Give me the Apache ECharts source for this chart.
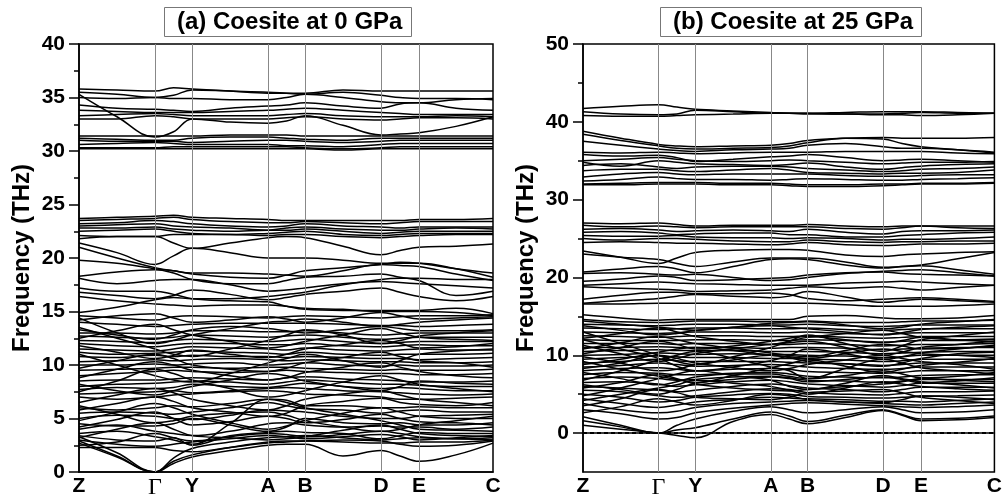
<!DOCTYPE html>
<html>
<head>
<meta charset="utf-8">
<script src="https://cdn.jsdelivr.net/npm/echarts@6.0.0/dist/echarts.min.js"></script>
<style>
  html, body { margin: 0; padding: 0; background: #fff; }
  #chart { width: 1005px; height: 500px; }
</style>
</head>
<body>
<div id="chart"></div>
<script>
const kLabels = ["Z", "Γ", "Y", "A", "B", "D", "E", "C"];
const kTicks = [0, 76, 113, 189, 226, 302, 340, 414];
// k-path distance of every sampled point (symmetry points + half-way points)
const kPos = [0, 38, 76, 94.5, 113, 151, 189, 207.5, 226, 264, 302, 321, 340, 377, 414];
const titles = ["(a) Coesite at 0 GPa", "(b) Coesite at 25 GPa"];
const yLabels25 = [0, 10, 20, 30, 40, 50];
const yMinor25 = [5, 15, 25, 35, 45];

// phonon branches at 0 GPa (THz), one row per branch, read at kPos
const bands0 = [
  [35.8,35.7,35.6,35.9,35.8,35.6,35.4,35.4,35.4,35.7,35.6,35.6,35.6,35.6,35.6],
  [35.5,35.3,35.0,35.2,35.7,35.6,35.5,35.4,35.3,35.5,35.2,35.0,34.9,34.9,34.8],
  [35.0,34.9,35.0,34.9,34.9,34.8,34.8,35.0,35.3,35.0,34.6,34.5,34.5,34.8,34.9],
  [34.3,34.0,33.9,33.8,33.7,34.0,34.2,34.3,34.5,34.2,34.0,34.4,34.5,34.0,33.8],
  [33.8,33.7,33.6,33.6,33.6,33.7,33.8,33.9,34.0,33.8,33.6,33.5,33.4,33.4,33.4],
  [33.3,33.4,33.5,33.4,33.3,33.3,33.3,33.4,33.5,33.3,33.2,33.2,33.2,33.3,33.2],
  [33.0,33.0,33.3,33.2,33.0,33.0,33.0,33.1,33.2,33.0,32.9,33.0,33.1,33.1,33.0],
  [35.3,33.2,31.3,31.8,33.0,32.7,32.6,32.8,33.3,32.4,31.5,31.6,31.7,32.3,33.2],
  [31.4,31.4,31.4,31.4,31.4,31.5,31.5,31.5,31.4,31.4,31.4,31.4,31.4,31.4,31.4],
  [31.2,31.1,31.0,31.0,31.2,31.3,31.3,31.2,31.1,31.0,31.2,31.2,31.2,31.2,31.2],
  [31.0,30.9,30.9,30.9,30.8,30.9,31.0,31.0,30.9,30.8,30.9,31.0,31.0,31.0,31.0],
  [30.6,30.7,30.8,30.7,30.6,30.6,30.6,30.5,30.5,30.4,30.6,30.7,30.7,30.7,30.7],
  [30.3,30.3,30.3,30.4,30.4,30.4,30.4,30.4,30.3,30.2,30.3,30.4,30.4,30.4,30.4],
  [30.2,30.2,30.2,30.2,30.2,30.2,30.2,30.2,30.2,30.1,30.2,30.2,30.2,30.2,30.2],
  [23.7,23.8,23.9,24.0,23.8,23.7,23.6,23.5,23.5,23.5,23.5,23.5,23.6,23.6,23.7],
  [23.5,23.6,23.7,23.8,23.6,23.4,23.3,23.3,23.4,23.3,23.2,23.3,23.4,23.4,23.4],
  [23.2,23.3,23.5,23.4,23.2,23.0,22.9,23.0,23.2,23.0,22.9,22.8,22.9,22.9,22.9],
  [23.0,23.1,23.2,23.0,22.9,22.8,22.6,22.8,22.9,22.7,22.6,22.6,22.7,22.8,22.7],
  [22.8,22.8,22.9,22.7,22.6,22.5,22.6,22.6,22.7,22.5,22.3,22.4,22.5,22.5,22.5],
  [22.5,22.6,22.7,22.5,22.3,22.2,22.3,22.4,22.5,22.2,22.1,22.2,22.3,22.3,22.3],
  [22.1,22.0,22.0,22.2,22.2,22.2,22.1,22.2,22.2,22.0,21.9,22.0,22.1,22.2,22.2],
  [21.8,22.0,22.0,21.4,20.9,21.4,21.9,22.0,21.9,21.1,20.3,20.7,21.0,21.1,21.3],
  [21.4,20.5,19.4,20.2,20.9,20.5,20.0,20.0,20.0,19.8,19.5,19.5,19.5,19.0,18.2],
  [21.0,20.0,19.1,18.8,18.6,18.6,18.5,18.4,18.3,18.8,19.4,19.3,19.2,18.5,17.9],
  [19.8,19.5,19.0,18.8,18.5,18.2,18.1,18.4,18.8,19.1,19.4,19.6,19.5,19.0,18.6],
  [18.3,18.7,18.9,18.6,18.0,17.6,17.6,17.9,18.2,18.3,18.5,18.2,17.9,16.5,16.9],
  [18.1,17.6,17.9,18.0,18.0,17.5,16.9,17.0,17.2,17.6,17.8,17.7,17.6,17.4,17.2],
  [17.2,16.9,16.9,16.6,16.2,16.0,15.9,15.5,15.2,15.1,15.1,15.1,15.1,15.3,14.8],
  [16.8,16.5,16.2,16.5,17.0,16.6,16.1,16.3,16.6,16.9,17.2,16.8,16.4,16.0,16.4],
  [16.4,16.0,15.7,15.6,15.5,15.6,15.6,15.5,15.3,15.2,15.0,15.0,15.0,14.9,14.6],
  [14.9,15.4,16.1,16.3,16.2,16.2,16.4,16.6,16.8,17.5,18.0,18.1,18.1,18.0,18.0],
  [2.7,1.4,0.0,0.8,1.4,2.0,2.5,2.6,2.6,1.5,2.0,1.5,1.0,1.6,2.7],
  [2.9,1.5,0.0,1.0,1.6,2.3,2.8,2.9,2.9,2.8,2.7,2.7,2.8,2.8,3.0],
  [3.3,1.8,0.0,1.3,2.2,2.8,3.2,3.3,3.4,3.2,3.0,3.1,3.2,3.1,3.2],
  [2.3,2.3,2.3,2.0,1.9,2.3,2.7,2.8,2.9,3.0,2.9,2.6,2.4,2.5,2.9],
  [2.5,2.8,3.6,3.2,2.9,3.3,3.6,3.5,3.3,3.5,3.8,3.6,3.3,3.1,3.0],
  [3.0,2.6,2.4,2.6,2.8,3.1,3.4,3.3,3.1,3.3,3.5,3.3,3.0,3.2,3.4],
  [3.4,3.0,2.9,3.2,2.5,3.4,3.7,3.8,3.7,3.6,3.1,3.4,3.7,3.6,3.6],
  [3.6,3.8,3.3,3.0,2.6,4.5,6.8,6.5,6.0,5.4,4.8,4.4,4.0,3.9,3.8],
  [4.0,4.4,3.8,3.6,3.4,3.8,4.5,4.6,4.4,4.2,4.3,4.2,4.2,4.0,4.2],
  [4.2,4.9,5.6,5.0,4.4,4.7,5.2,5.0,4.6,4.9,5.4,5.0,4.7,4.6,4.4],
  [4.5,4.3,4.3,4.5,5.0,4.4,3.8,4.2,5.0,4.6,4.5,4.6,4.4,4.4,4.6],
  [4.8,5.6,6.4,6.0,5.4,4.6,4.0,4.3,4.8,5.5,6.0,5.6,5.2,5.0,5.0],
  [5.0,5.3,5.2,5.0,4.9,5.3,5.8,5.7,5.6,5.2,5.0,5.0,5.2,5.3,5.4],
  [5.5,5.6,5.5,5.4,5.6,6.0,6.5,6.2,5.9,5.8,5.5,5.7,5.8,5.6,5.6],
  [5.8,6.4,7.0,6.6,6.0,5.6,5.2,5.5,6.2,6.6,6.9,6.5,6.3,6.2,6.5],
  [6.0,5.8,6.0,6.2,6.1,6.4,6.8,6.7,6.2,6.2,6.0,6.0,6.1,6.0,6.0],
  [6.5,7.2,7.8,7.4,6.8,6.2,5.8,6.2,6.8,7.3,7.6,7.2,6.8,6.5,6.2],
  [7.0,6.8,7.0,7.2,7.3,7.5,7.6,7.5,7.3,7.2,7.0,6.8,6.8,6.9,7.0],
  [7.3,7.4,7.5,7.6,7.4,7.6,7.8,7.9,7.8,7.6,7.5,7.4,7.3,7.2,7.3],
  [7.7,7.9,7.8,7.9,8.2,8.0,7.9,8.1,8.3,8.0,7.8,7.9,7.8,7.6,7.6],
  [8.0,8.2,8.3,8.4,8.5,8.4,8.2,8.4,8.6,8.4,8.2,8.2,8.1,8.0,8.0],
  [8.2,7.6,7.2,7.6,8.0,8.6,9.2,9.0,8.5,8.0,7.6,8.0,8.5,8.3,8.2],
  [8.5,8.6,8.6,8.7,8.8,8.7,8.6,8.8,8.9,8.7,8.6,8.5,8.4,8.4,8.5],
  [8.8,9.6,10.3,10.0,9.5,9.0,8.6,8.8,9.3,9.8,10.2,9.8,9.4,9.0,8.8],
  [9.0,9.2,9.4,9.5,9.4,9.3,9.4,9.5,9.4,9.3,9.2,9.2,9.1,9.1,9.2],
  [9.5,9.6,9.7,9.8,9.8,9.7,9.8,9.8,9.7,9.6,9.5,9.6,9.5,9.5,9.6],
  [9.7,10.4,11.0,10.6,10.0,9.6,9.4,9.7,10.2,10.7,11.2,10.8,10.4,10.2,9.8],
  [10.0,10.0,10.1,10.0,10.1,10.2,10.0,10.1,10.2,10.0,9.9,10.0,9.9,9.9,10.0],
  [10.3,10.4,10.5,10.4,10.5,10.6,10.5,10.4,10.5,10.4,10.3,10.3,10.2,10.2,10.3],
  [10.8,10.7,10.9,10.8,10.9,10.8,10.8,10.7,10.8,10.7,10.6,10.6,10.5,10.6,10.7],
  [11.2,11.0,11.1,11.2,11.3,11.2,11.1,11.0,11.2,11.0,10.9,11.0,11.0,11.0,11.1],
  [11.5,11.4,11.3,11.5,11.7,11.6,11.5,11.4,11.6,11.4,11.3,11.4,11.5,11.4,11.4],
  [11.8,11.2,10.6,10.9,11.4,11.0,10.7,11.0,11.5,11.9,12.3,12.0,11.6,11.7,12.0],
  [12.0,11.8,11.7,11.9,12.0,12.0,11.9,11.9,12.0,11.8,11.7,11.8,11.9,11.8,11.8],
  [12.3,12.2,12.1,12.3,12.4,12.3,12.2,12.3,12.4,12.2,12.0,12.1,12.2,12.2,12.2],
  [12.7,12.6,12.5,12.6,12.8,12.7,12.6,12.7,12.8,12.6,12.4,12.5,12.6,12.6,12.6],
  [13.0,13.0,12.9,13.0,13.2,13.2,13.1,13.1,13.2,13.0,12.8,12.9,13.0,13.0,13.0],
  [13.3,12.8,12.4,12.8,13.3,13.6,13.4,13.2,13.0,13.3,13.6,13.4,13.2,13.2,13.3],
  [13.5,12.5,11.5,11.0,10.8,11.5,12.3,12.8,13.3,12.8,12.0,12.3,12.7,13.0,13.2],
  [14.0,13.8,13.6,13.7,13.8,13.9,13.9,13.9,13.9,13.8,13.7,13.7,13.6,13.7,13.8],
  [14.2,14.6,14.8,14.4,14.0,14.2,14.5,14.3,14.0,14.4,14.9,14.6,14.3,14.4,14.5],
  [14.4,13.0,12.0,12.3,12.8,13.4,14.0,14.1,14.3,14.0,13.6,13.8,14.0,14.2,14.4],
  [14.6,14.4,14.2,14.5,14.6,14.5,14.4,14.5,14.6,14.5,14.4,14.5,14.6,14.6,14.7],
  [11.0,10.0,9.0,8.6,8.4,9.2,10.2,10.6,11.0,10.4,9.8,10.4,11.0,11.3,11.5],
  [7.5,8.5,9.6,9.2,8.6,7.8,7.0,7.2,7.6,8.4,9.0,8.6,8.2,7.8,7.5],
  [12.5,13.2,13.8,13.3,12.8,12.2,11.6,11.8,12.2,12.8,13.4,13.0,12.6,12.4,12.3],
  [3.2,4.0,4.6,4.0,3.4,3.2,3.0,3.1,3.3,3.9,4.4,4.0,3.6,3.4,3.3],
  [6.2,5.4,4.6,4.8,5.2,5.5,5.6,5.3,4.8,4.2,3.8,4.0,4.4,4.8,5.2]
];

// phonon branches at 25 GPa (THz)
const bands25 = [
  [41.7,42.0,42.2,41.9,41.6,41.4,41.2,41.1,41.1,41.2,41.3,41.3,41.3,41.2,41.1],
  [41.3,41.0,40.9,41.0,41.5,41.3,41.1,41.1,41.1,41.0,41.0,41.1,41.2,41.1,41.1],
  [40.8,40.7,40.7,40.8,40.9,41.0,41.1,41.1,41.0,41.0,40.9,40.9,40.8,40.9,41.1],
  [38.8,37.9,37.1,36.9,36.8,36.9,37.0,37.2,37.6,37.9,38.0,37.9,37.9,37.9,38.0],
  [38.4,37.6,36.9,36.6,36.5,36.6,36.7,36.9,37.3,37.9,37.8,37.2,36.8,36.4,36.0],
  [37.5,37.0,36.5,36.3,36.2,36.4,36.5,36.6,37.0,37.2,36.8,36.6,36.6,36.4,36.1],
  [36.1,36.0,36.1,36.0,35.9,36.0,36.1,36.1,36.1,36.2,36.2,36.2,36.2,36.0,35.9],
  [35.8,35.6,35.7,35.4,34.9,35.2,35.5,35.6,35.8,35.4,35.0,35.1,35.2,35.0,34.8],
  [35.0,35.2,35.4,35.2,35.0,34.9,35.0,35.1,35.0,34.8,34.6,34.7,34.8,34.8,34.9],
  [34.8,34.3,35.0,34.8,34.6,34.5,34.4,34.5,34.7,34.2,33.9,34.1,34.3,34.5,34.6],
  [34.4,34.6,34.2,34.0,34.2,34.3,34.3,34.2,34.0,33.8,33.6,33.7,33.9,34.0,34.2],
  [33.7,33.9,33.9,33.7,33.6,33.8,34.0,33.8,33.5,33.4,33.3,33.4,33.4,33.5,33.8],
  [32.9,33.3,33.5,33.3,33.2,33.3,33.3,33.3,33.3,33.1,33.0,33.0,33.1,33.2,33.2],
  [32.4,32.6,32.9,32.7,32.6,32.6,32.5,32.6,32.7,32.6,32.5,32.5,32.6,32.7,32.8],
  [32.0,32.1,32.2,32.2,32.2,32.1,32.1,32.0,31.9,31.9,32.0,32.0,32.1,32.1,32.2],
  [31.9,31.9,32.0,32.0,32.0,31.9,31.9,31.8,31.7,31.7,31.8,31.9,32.0,32.0,32.1],
  [27.0,26.9,27.0,26.8,26.6,26.7,26.7,26.7,26.8,26.6,26.5,26.6,26.6,26.6,26.6],
  [26.7,26.5,26.6,26.5,26.4,26.5,26.5,26.5,26.5,26.3,26.2,26.4,26.6,26.4,26.3],
  [26.2,26.3,26.1,25.9,26.0,26.1,26.0,25.9,26.2,25.8,25.6,25.9,26.0,26.0,26.1],
  [25.8,25.9,25.7,25.5,25.6,25.7,25.7,25.5,25.5,25.2,25.2,25.4,25.5,25.7,25.8],
  [25.4,25.3,25.3,25.4,25.2,25.1,25.1,25.0,25.1,25.0,24.8,24.9,24.9,25.0,25.2],
  [25.0,24.8,25.0,25.0,24.9,24.7,24.6,24.6,24.8,24.6,24.5,24.6,24.6,24.7,24.7],
  [24.5,24.6,24.5,24.4,24.4,24.3,24.2,24.3,24.5,24.2,24.1,24.2,24.3,24.3,24.4],
  [23.4,22.6,21.8,22.5,23.2,23.5,23.6,23.6,23.5,22.9,22.7,22.9,23.0,23.2,23.3],
  [23.0,22.6,22.3,21.8,21.4,22.0,22.5,22.5,22.5,22.0,21.3,21.4,21.5,21.0,20.4],
  [20.7,21.1,21.4,21.1,20.6,21.4,22.3,22.4,22.3,21.6,21.2,21.4,21.6,22.4,23.2],
  [20.5,20.6,20.4,20.3,20.4,20.0,19.6,19.7,20.0,20.5,20.8,20.9,21.0,20.6,20.2],
  [19.5,19.8,20.2,20.0,19.6,19.7,19.9,20.0,20.3,20.6,20.7,20.5,20.4,20.3,20.2],
  [19.0,19.2,19.4,19.3,19.2,19.1,19.0,19.0,19.0,19.3,19.4,19.5,19.4,19.2,19.0],
  [18.8,18.6,18.5,18.4,18.2,18.3,18.4,18.6,18.8,18.6,18.8,18.6,18.4,18.7,19.0],
  [17.2,17.7,18.1,18.1,17.9,17.9,18.0,17.8,17.3,17.0,17.2,17.3,17.4,17.2,16.9],
  [16.7,17.0,17.3,17.6,17.8,17.6,17.4,17.6,18.2,17.5,16.8,17.0,17.2,17.0,16.8],
  [16.6,16.6,16.7,16.7,16.7,16.7,16.7,16.7,16.7,16.5,16.3,16.3,16.3,16.4,16.6],
  [1.0,0.5,0.0,-0.3,-0.6,1.5,2.4,1.8,1.2,2.0,2.9,2.3,1.6,1.7,2.0],
  [1.6,0.8,0.0,0.4,0.7,1.8,2.7,2.2,1.5,2.3,3.0,2.4,1.8,1.9,2.2],
  [2.1,1.0,0.0,1.0,1.8,2.8,3.4,3.0,2.6,3.0,3.4,3.0,2.6,2.7,3.0],
  [2.6,3.4,4.4,4.0,3.6,4.2,5.0,4.8,4.3,4.0,3.9,4.3,4.8,4.6,4.3],
  [3.0,2.5,1.8,2.0,2.6,3.2,3.6,3.8,3.9,3.7,3.5,3.4,3.3,3.4,3.6],
  [3.5,4.4,5.6,5.2,4.6,4.4,4.3,4.6,5.2,5.4,5.6,5.2,4.6,4.2,3.8],
  [3.8,3.0,2.6,2.8,3.3,3.8,4.0,4.1,4.2,4.0,3.8,3.7,3.6,3.8,4.0],
  [4.2,5.0,5.8,6.2,6.8,6.4,6.0,5.5,5.0,5.8,6.6,6.3,6.0,5.7,5.5],
  [4.4,3.8,3.3,3.6,4.0,4.3,4.6,4.5,4.4,4.3,4.1,4.1,4.0,4.2,4.4],
  [5.0,4.6,4.0,4.2,4.6,4.9,5.1,5.0,4.7,4.6,4.5,4.6,4.7,4.8,4.9],
  [5.5,5.3,4.8,4.6,4.8,5.3,5.7,5.6,5.2,5.0,4.9,5.1,5.3,5.3,5.4],
  [5.8,6.5,7.5,7.0,6.3,5.8,5.5,5.4,5.6,6.0,6.3,6.6,7.0,6.8,6.6],
  [6.0,5.8,5.5,5.3,5.5,6.0,6.3,6.1,5.8,5.6,5.3,5.6,5.9,5.9,5.9],
  [6.2,5.6,5.0,5.6,6.4,6.9,7.2,7.0,6.6,6.9,7.2,6.9,6.5,6.7,7.1],
  [6.5,6.6,6.3,6.0,6.2,6.6,6.8,6.6,6.3,6.1,5.9,6.1,6.4,6.4,6.4],
  [7.0,7.2,7.0,6.8,6.9,7.2,7.3,7.1,6.8,6.7,6.5,6.7,6.9,6.9,6.9],
  [7.5,7.8,7.7,7.5,7.5,7.7,7.8,7.6,7.3,7.2,7.1,7.2,7.4,7.5,7.5],
  [7.8,7.0,6.2,6.6,7.2,7.6,7.6,7.3,7.0,7.4,8.0,7.6,7.1,7.3,7.8],
  [8.0,8.3,8.4,8.2,8.0,8.2,8.3,8.2,7.9,7.8,7.7,7.8,8.0,8.0,8.0],
  [8.3,9.0,10.0,9.6,9.0,8.4,8.0,8.3,8.8,9.4,10.0,9.6,9.2,8.8,8.2],
  [8.5,8.7,9.0,8.8,8.6,8.7,8.8,8.7,8.5,8.3,8.2,8.3,8.5,8.5,8.5],
  [8.8,9.5,10.4,10.8,11.0,10.6,10.0,9.8,9.6,10.2,10.8,10.5,10.2,10.0,9.7],
  [9.0,9.2,9.5,9.3,9.2,9.2,9.2,9.1,9.0,8.9,8.7,8.8,9.0,9.0,9.0],
  [9.5,9.7,9.9,9.8,9.7,9.7,9.6,9.6,9.5,9.4,9.2,9.3,9.5,9.5,9.5],
  [9.8,9.0,8.0,8.2,8.8,9.4,10.0,9.7,9.2,8.9,8.6,9.0,9.6,10.2,10.4],
  [10.0,10.1,10.3,10.2,10.1,10.2,10.1,10.1,10.0,9.9,9.7,9.8,10.0,10.0,10.0],
  [10.2,11.0,11.8,11.4,10.8,11.2,11.8,12.2,12.4,12.0,11.6,11.9,12.3,12.0,11.7],
  [10.5,10.6,10.7,10.6,10.6,10.6,10.5,10.5,10.5,10.4,10.2,10.3,10.4,10.5,10.5],
  [11.0,11.0,11.1,11.0,11.0,11.0,10.9,11.0,11.0,10.9,10.7,10.8,10.9,11.0,11.0],
  [11.3,10.2,9.2,9.6,10.2,10.8,11.4,11.6,11.8,11.0,10.0,10.4,11.0,11.4,11.8],
  [11.5,11.5,11.5,11.4,11.5,11.5,11.4,11.4,11.5,11.4,11.2,11.3,11.4,11.4,11.5],
  [12.0,11.9,11.9,11.9,12.0,12.0,11.9,11.9,12.0,11.9,11.7,11.8,11.9,11.9,12.0],
  [12.2,12.8,13.5,13.0,12.4,11.8,11.4,11.8,12.3,12.8,13.2,12.8,12.3,12.0,12.1],
  [12.5,12.4,12.3,12.4,12.5,12.5,12.4,12.4,12.5,12.3,12.2,12.3,12.4,12.4,12.4],
  [13.0,12.9,12.8,12.9,13.0,13.0,12.9,12.9,13.0,12.8,12.7,12.8,12.9,12.9,12.9],
  [13.5,13.4,13.3,13.4,13.5,13.5,13.4,13.4,13.5,13.3,13.2,13.3,13.4,13.4,13.4],
  [13.8,13.2,12.6,12.8,13.2,13.6,13.8,13.6,13.4,13.0,12.6,12.9,13.3,13.6,13.8],
  [14.0,13.9,13.8,13.9,14.0,14.0,13.9,13.9,14.0,13.8,13.7,13.8,13.9,13.9,13.9],
  [14.4,14.0,13.6,13.4,13.2,13.6,14.1,14.2,14.3,13.9,13.4,13.6,14.0,14.3,14.6],
  [14.6,14.3,14.2,14.3,14.4,14.4,14.3,14.3,14.4,14.2,14.2,14.3,14.4,14.4,14.5],
  [15.2,14.8,14.5,14.6,14.6,14.6,14.6,14.6,15.0,15.1,14.8,14.7,14.7,14.8,15.1],
  [13.0,11.5,10.0,9.2,8.8,9.8,11.0,11.8,12.6,11.5,10.5,11.2,12.0,12.5,13.0],
  [6.8,8.0,9.4,10.0,10.5,9.6,8.5,8.0,7.0,8.3,9.5,9.0,8.4,8.0,7.6],
  [12.0,10.8,9.6,8.6,8.0,8.5,9.3,10.0,10.8,10.2,9.5,9.8,10.3,10.8,11.3],
  [4.8,5.8,7.0,7.6,8.0,7.4,6.8,6.0,5.6,6.4,7.4,7.0,6.6,6.2,5.8],
  [9.2,8.2,7.3,6.9,6.5,7.4,8.4,8.9,9.4,8.6,7.8,8.2,8.7,9.1,9.6],
  [10.8,11.6,12.4,12.0,11.5,10.9,10.3,10.0,9.8,10.6,11.4,11.2,10.8,10.9,11.2]
];

const font = "'Liberation Sans', Arial, sans-serif";
const chart = echarts.init(document.getElementById("chart"));

const bandSeries = (bands, xi, yi) =>
  bands.map((b) => ({
    type: "line",
    xAxisIndex: xi,
    yAxisIndex: yi,
    data: b.map((v, i) => [kPos[i], v]),
    smooth: 0.4,
    symbol: "none",
    silent: true,
    animation: false,
    z: 3,
    lineStyle: { color: "#000", width: 1.5 },
  }));

const guideSeries = (xi, yi, extra) => ({
  type: "line",
  xAxisIndex: xi,
  yAxisIndex: yi,
  data: [],
  z: 1,
  silent: true,
  animation: false,
  markLine: {
    silent: true,
    symbol: ["none", "none"],
    animation: false,
    label: { show: false },
    lineStyle: { color: "#888", width: 1, type: "solid" },
    data: kTicks.slice(1, -1).map((k) => ({ xAxis: k })).concat(extra),
  },
});

const xAxis = (gi) => ({
  type: "value",
  gridIndex: gi,
  min: 0,
  max: 414,
  axisLine: { show: true, lineStyle: { color: "#000", width: 1.5 } },
  axisTick: { show: false },
  splitLine: { show: false },
  axisLabel: {
    customValues: kTicks,
    margin: 4,
    color: "#000",
    fontFamily: font,
    fontWeight: "bold",
    fontSize: 21,
    formatter: (v) => {
      const s = kLabels[kTicks.indexOf(v)];
      return s === "Γ" ? "{g|Γ}" : s;
    },
    rich: {
      g: { fontFamily: "'Liberation Serif', serif", fontWeight: "normal", fontSize: 24, color: "#000" },
    },
  },
});

const yName = {
  name: "Frequency (THz)",
  nameLocation: "middle",
  nameGap: 45,
  nameTextStyle: { fontFamily: font, fontWeight: "bold", fontSize: 24, color: "#000" },
};
const yLabel = { color: "#000", fontFamily: font, fontWeight: "bold", fontSize: 21, margin: 14 };
const blackLine = { color: "#000", width: 1.5 };

const option = {
  backgroundColor: "#fff",
  animation: false,
  title: titles.map((t, i) => ({
    text: t,
    left: [164, 660][i],
    top: 7,
    borderColor: "#777",
    borderWidth: 1,
    padding: [3, 9, 2, 13],
    textStyle: { fontFamily: font, fontWeight: "bold", fontSize: 24, color: "#000", lineHeight: 25 },
  })),
  grid: [
    { left: 79, top: 44, width: 414, height: 430, show: true, borderColor: "#000", borderWidth: 1.5 },
    { left: 583, top: 44, width: 414, height: 430, show: true, borderColor: "#000", borderWidth: 1.5 },
  ],
  xAxis: [xAxis(0), xAxis(1)],
  yAxis: [
    Object.assign({
      type: "value",
      gridIndex: 0,
      position: "left",
      min: 0,
      max: 40,
      interval: 5,
      axisLine: { show: true, lineStyle: blackLine },
      axisTick: { show: true, length: 10, lineStyle: blackLine },
      minorTick: { show: true, splitNumber: 2, length: 5, lineStyle: blackLine },
      splitLine: { show: false },
      axisLabel: yLabel,
    }, yName),
    Object.assign({
      type: "value",
      gridIndex: 1,
      position: "left",
      min: -5,
      max: 50,
      interval: 5,
      axisLine: { show: true, lineStyle: blackLine },
      axisTick: { show: true, length: 10, customValues: yLabels25, lineStyle: blackLine },
      splitLine: { show: false },
      axisLabel: Object.assign({ customValues: yLabels25 }, yLabel),
    }, yName),
    {
      type: "value",
      gridIndex: 1,
      position: "left",
      min: -5,
      max: 50,
      interval: 5,
      axisLine: { show: false },
      axisTick: { show: true, length: 5, customValues: yMinor25, lineStyle: blackLine },
      axisLabel: { show: false },
      splitLine: { show: false },
    },
  ],
  series: [
    guideSeries(0, 0, []),
    guideSeries(1, 1, [{ yAxis: 0, lineStyle: { color: "#000", width: 2, type: [4, 3] } }]),
    ...bandSeries(bands0, 0, 0),
    ...bandSeries(bands25, 1, 1),
  ],
};

chart.setOption(option);
</script>
</body>
</html>
